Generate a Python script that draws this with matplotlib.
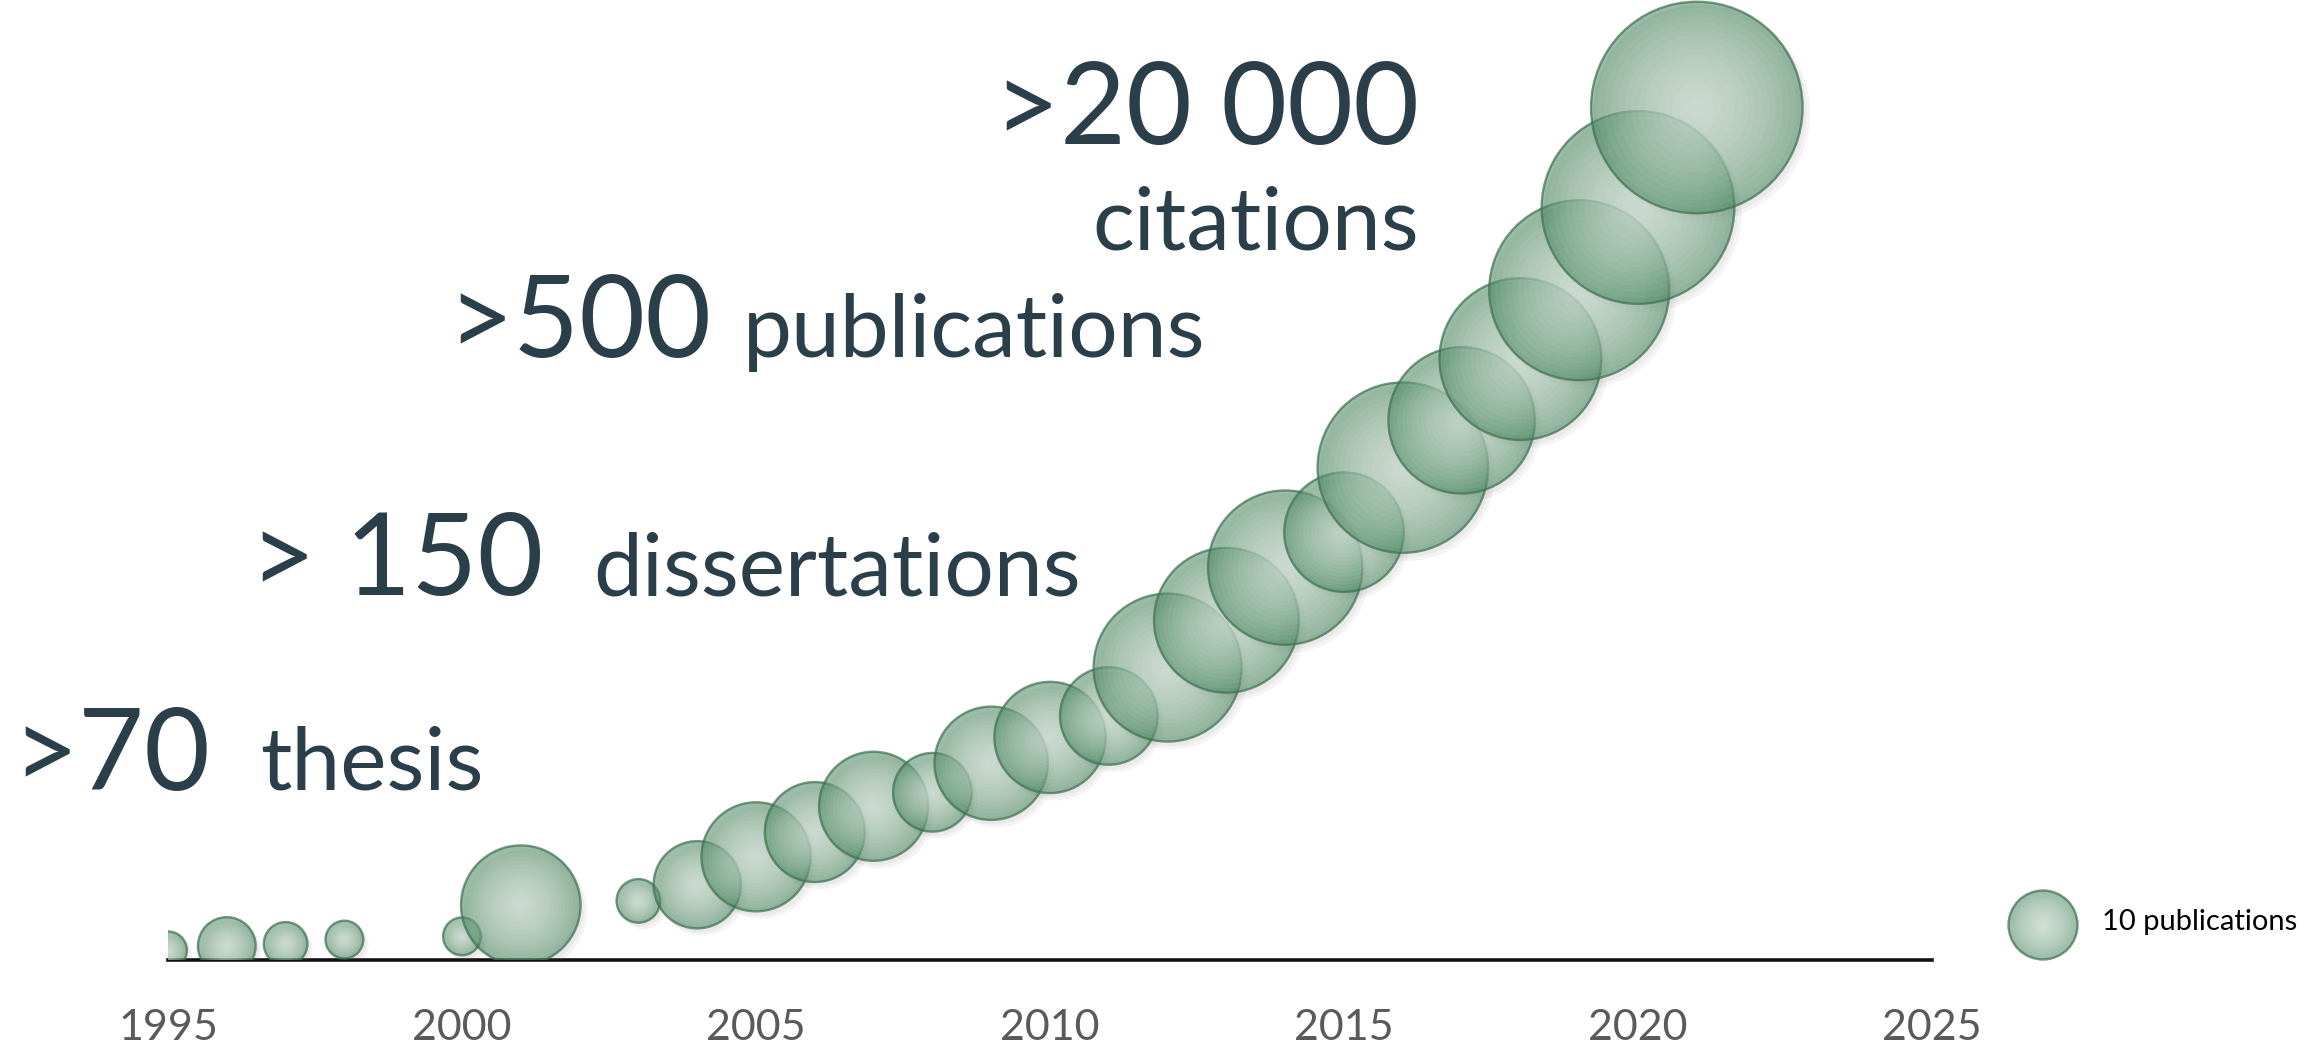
import numpy as np
import matplotlib
matplotlib.use("Agg")
import matplotlib.pyplot as plt
from matplotlib.transforms import offset_copy

# ---------------- data ----------------
years = [1995, 1996, 1997, 1998, 2000, 2001, 2003, 2004, 2005, 2006, 2007, 2008,
         2009, 2010, 2011, 2012, 2013, 2014, 2015, 2016, 2017, 2018, 2019, 2020, 2021]
publications = [3, 7, 4, 3, 3, 30, 4, 16, 25, 21, 25, 13,
                27, 26, 20, 46, 44, 50, 30, 61, 45, 55, 68, 78, 94]
cumulative = [9, 13, 15, 19, 22, 51, 55, 70, 96, 119, 143, 156,
              183, 207, 227, 272, 316, 365, 398, 458, 502, 559, 623, 700, 793]
tick_years = [1995, 2000, 2005, 2010, 2015, 2020, 2025]
legend_value = 10
legend_label = "10 publications"

# ---------------- style ----------------
W, H, DPI = 2306, 1053, 100
SIZE_PER_PUB = (2 * 34.5 * 72 / DPI) ** 2 / 10.0   # scatter area per publication
FILL = "#4f8c65"
EDGE = "#3f6e50"
TXT = "#2b3f4b"
FONT = ["Lato", "DejaVu Sans"]

plt.rcParams["font.family"] = FONT

fig = plt.figure(figsize=(W / DPI, H / DPI), dpi=DPI)
fig.patch.set_facecolor("white")
ax = fig.add_axes([168 / W, 93 / H, (1932 - 168) / W, 960 / H])
ax.set_xlim(1995, 2025)
ax.set_ylim(0, 893)
ax.set_facecolor("none")
for side in ["top", "right", "left"]:
    ax.spines[side].set_visible(False)
ax.spines["bottom"].set_linewidth(2.6)
ax.spines["bottom"].set_color("#111111")
ax.spines["bottom"].set_zorder(0.5)
ax.set_yticks([])
ax.set_xticks(tick_years)
ax.set_xticklabels([str(t) for t in tick_years])
ax.tick_params(axis="x", length=0, pad=35, labelsize=31, labelcolor="#5a5a5a")

shadow_tr = offset_copy(ax.transData, fig=fig, x=5, y=-6, units="dots")
shadow_tr2 = offset_copy(ax.transData, fig=fig, x=3, y=-4, units="dots")


def bubble(axis, x, y, s, z, transform=None, clip=True):
    kw = {}
    if transform is not None:
        kw["transform"] = transform
    axis.scatter([x], [y], s=[s], color=FILL, alpha=0.58, edgecolors="none",
                 zorder=z, clip_on=clip, **kw)
    nlay = 14
    for k in range(nlay):
        frac = 0.94 - k * (0.9 / nlay)
        axis.scatter([x], [y], s=[s * frac ** 2], color="white", alpha=0.06,
                     edgecolors="none", zorder=z + 0.001 * (k + 1), clip_on=clip, **kw)
    axis.scatter([x], [y], s=[s], facecolors="none", edgecolors=EDGE,
                 linewidths=1.7, alpha=0.7, zorder=z + 0.05, clip_on=clip, **kw)


# soft shadows
for x, y, p in zip(years, cumulative, publications):
    ax.scatter([x], [y], s=[p * SIZE_PER_PUB * 1.05], color="#707070", alpha=0.07,
               edgecolors="none", zorder=1, transform=shadow_tr)
    ax.scatter([x], [y], s=[p * SIZE_PER_PUB * 1.02], color="#707070", alpha=0.07,
               edgecolors="none", zorder=1, transform=shadow_tr2)

for i, (x, y, p) in enumerate(zip(years, cumulative, publications)):
    bubble(ax, x, y, p * SIZE_PER_PUB, 2 + i * 0.1)

# overlay axes in figure coordinates for legend and annotations
lax = fig.add_axes([0, 0, 1, 1], facecolor="none")
lax.set_xlim(0, 1)
lax.set_ylim(0, 1)
lax.axis("off")
lx, ly = 2043 / W, 1 - 925 / H
bubble(lax, lx, ly, legend_value * SIZE_PER_PUB, 2, clip=False)
lax.text(2102 / W, 1 - 922 / H, legend_label, fontsize=21, color="black",
         ha="left", va="center")

big, small = 82, 63
lax.text(1419 / W, 1 - 144 / H, ">20 000", fontsize=big, color=TXT, ha="right", va="baseline")
lax.text(1419 / W, 1 - 250 / H, "citations", fontsize=small, color=TXT, ha="right", va="baseline")
lax.text(447 / W, 1 - 357 / H, ">500", fontsize=big, color=TXT, ha="left", va="baseline")
lax.text(743 / W, 1 - 357 / H, "publications", fontsize=small, color=TXT, ha="left", va="baseline")
lax.text(250 / W, 1 - 595 / H, "> 150", fontsize=big, color=TXT, ha="left", va="baseline")
lax.text(593 / W, 1 - 595 / H, "dissertations", fontsize=small, color=TXT, ha="left", va="baseline")
lax.text(12 / W, 1 - 790 / H, ">70", fontsize=big, color=TXT, ha="left", va="baseline")
lax.text(260 / W, 1 - 790 / H, "thesis", fontsize=small, color=TXT, ha="left", va="baseline")

fig.savefig("out.png", dpi=DPI, facecolor="white")
